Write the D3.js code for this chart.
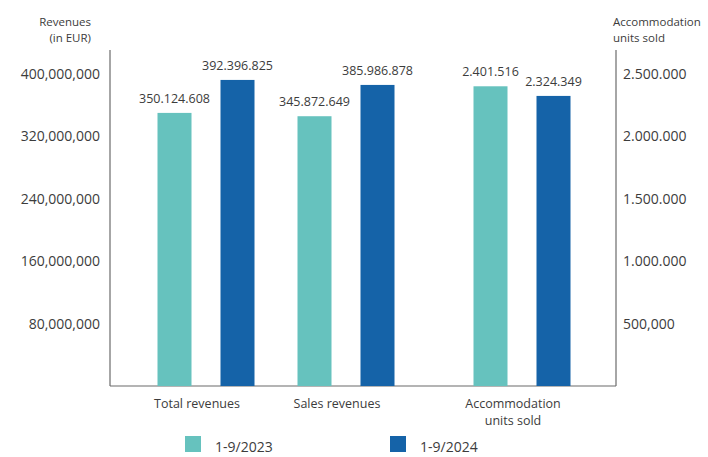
<!DOCTYPE html>
<html>
<head>
<meta charset="utf-8">
<script src="https://cdn.jsdelivr.net/npm/d3@7"></script>
<style>
  body { margin: 0; background: #fff; }
  svg text { font-family: "Open Sans", sans-serif; fill: #3c3c3c; }
  .axis path { display: none; }
  .axis line { display: none; }
</style>
</head>
<body>
<svg id="chart" width="708" height="457"></svg>
<script>
// Data
const categories = ["Total revenues", "Sales revenues", "Accommodation units sold"];
const categoryLines = [["Total revenues"], ["Sales revenues"], ["Accommodation", "units sold"]];
const seriesNames = ["1-9/2023", "1-9/2024"];
const values2023 = [350124608, 345872649, 2401516];
const values2024 = [392396825, 385986878, 2324349];
const valueLabels2023 = ["350.124.608", "345.872.649", "2.401.516"];
const valueLabels2024 = ["392.396.825", "385.986.878", "2.324.349"];
const leftTicks = [80000000, 160000000, 240000000, 320000000, 400000000];
const leftTickLabels = ["80,000,000", "160,000,000", "240,000,000", "320,000,000", "400,000,000"];
const rightTicks = [500000, 1000000, 1500000, 2000000, 2500000];
const rightTickLabels = ["500,000", "1.000.000", "1.500.000", "2.000.000", "2.500.000"];
// which axis each category is measured on
const useRightAxis = [false, false, true];

const colors = { "1-9/2023": "#66c2be", "1-9/2024": "#1563a8" };

const svg = d3.select("#chart");
const plotLeft = 110, plotRight = 616, plotTop = 50, plotBottom = 386;

const yLeft = d3.scaleLinear().domain([0, 400000000]).range([plotBottom, 74]);
const yRight = d3.scaleLinear().domain([0, 2500000]).range([plotBottom, 74]);

// group centres (uneven spacing as in the original)
const xCenter = d3.scaleOrdinal().domain(categories).range([206, 346, 522]);
const barW = 34, barGap = 63;

// axes lines
svg.append("line").attr("x1", plotLeft).attr("x2", plotLeft).attr("y1", plotTop).attr("y2", plotBottom)
    .attr("stroke", "#6b6b6b").attr("stroke-width", 1.2);
svg.append("line").attr("x1", plotRight).attr("x2", plotRight).attr("y1", plotTop).attr("y2", plotBottom)
    .attr("stroke", "#6b6b6b").attr("stroke-width", 1.2);
svg.append("line").attr("x1", plotLeft).attr("x2", plotRight).attr("y1", plotBottom).attr("y2", plotBottom)
    .attr("stroke", "#6b6b6b").attr("stroke-width", 1.2);

// left axis labels
svg.append("g").attr("class", "axis")
    .attr("transform", `translate(${plotLeft - 10},0)`)
    .call(d3.axisLeft(yLeft).tickValues(leftTicks).tickSize(0).tickPadding(0)
        .tickFormat((d, i) => leftTickLabels[i]))
    .selectAll("text").style("font-size", "14px").attr("fill", "#3c3c3c");

// right axis labels
svg.append("g").attr("class", "axis")
    .attr("transform", `translate(${plotRight + 7},0)`)
    .call(d3.axisRight(yRight).tickValues(rightTicks).tickSize(0).tickPadding(0)
        .tickFormat((d, i) => rightTickLabels[i]))
    .selectAll("text").style("font-size", "14px").attr("fill", "#3c3c3c");

// axis titles
svg.append("text").attr("x", 91).attr("y", 26).attr("text-anchor", "end")
    .style("font-size", "11.5px").text("Revenues");
svg.append("text").attr("x", 91).attr("y", 42).attr("text-anchor", "end")
    .style("font-size", "11.5px").text("(in EUR)");
svg.append("text").attr("x", 613).attr("y", 26)
    .style("font-size", "11.5px").text("Accommodation");
svg.append("text").attr("x", 613).attr("y", 42)
    .style("font-size", "11.5px").text("units sold");

// bars
const rows = [];
categories.forEach((c, i) => {
    const y = useRightAxis[i] ? yRight : yLeft;
    rows.push({ cat: c, series: seriesNames[0], idx: 0, v: values2023[i], label: valueLabels2023[i], y });
    rows.push({ cat: c, series: seriesNames[1], idx: 1, v: values2024[i], label: valueLabels2024[i], y });
});

const bx = d => xCenter(d.cat) + (d.idx - 0.5) * barGap - barW / 2;

svg.selectAll("rect.bar").data(rows).join("rect")
    .attr("class", "bar")
    .attr("x", bx)
    .attr("y", d => d.y(d.v))
    .attr("width", barW)
    .attr("height", d => plotBottom - d.y(d.v))
    .attr("fill", d => colors[d.series]);

svg.selectAll("text.val").data(rows).join("text")
    .attr("class", "val")
    .attr("x", d => bx(d) + barW / 2)
    .attr("y", d => d.y(d.v) - 10)
    .attr("text-anchor", "middle")
    .style("font-size", "12.5px")
    .attr("fill", "#444")
    .text(d => d.label);

// category labels
categories.forEach((c, i) => {
    categoryLines[i].forEach((line, j) => {
        svg.append("text")
            .attr("x", xCenter(c) - 9)
            .attr("y", 408 + j * 17)
            .attr("text-anchor", "middle")
            .style("font-size", "12.5px")
            .text(line);
    });
});

// legend
const legendX = [185, 390];
seriesNames.forEach((s, i) => {
    svg.append("rect").attr("x", legendX[i]).attr("y", 436)
        .attr("width", 16).attr("height", 16).attr("fill", colors[s]);
    svg.append("text").attr("x", legendX[i] + 30).attr("y", 452)
        .style("font-size", "14px").text(s);
});
</script>
</body>
</html>
